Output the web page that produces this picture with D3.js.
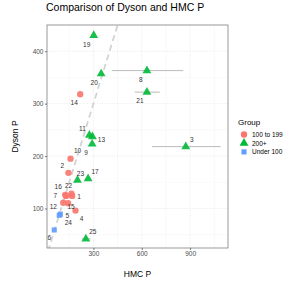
<!DOCTYPE html>
<html>
<head>
<meta charset="utf-8">
<script src="https://cdn.jsdelivr.net/npm/d3@7"></script>
<style>
  body { margin: 0; background: #fff; }
  text { font-family: "Liberation Sans", Arial, sans-serif; }
</style>
</head>
<body>
<svg id="chart" width="291" height="291"></svg>
<script>
// values
const ids    = [1, 2, 3, 4, 5, 6, 7, 8, 9, 10, 11, 12, 13, 14, 15, 16, 17, 19, 20, 21, 22, 23, 24, 25];
const hmc    = [168, 145, 873, 189, 88, 57, 125, 632, 292, 158, 275, 113, 294, 218, 143, 131, 267, 302, 348, 632, 164, 201, 95, 253];
const dyson  = [124, 168, 218, 96, 87, 59, 126, 363, 223, 195, 240, 111, 237, 318, 110, 124, 157, 430, 357, 322, 128, 154, 89, 42];
const groups = ["100 to 199", "100 to 199", "200+", "100 to 199", "Under 100", "Under 100", "100 to 199", "200+", "200+", "100 to 199",
                "200+", "100 to 199", "200+", "100 to 199", "100 to 199", "100 to 199", "200+", "200+", "200+", "200+",
                "100 to 199", "200+", "Under 100", "200+"];
const hmcLo  = [null, null, 663, null, null, null, null, 414, null, null, null, null, null, null, null, null, null, null, null, 556, null, null, null, 228];
const hmcHi  = [null, null, 1090, null, null, null, null, 857, null, null, null, null, null, null, null, null, null, null, null, 712, null, null, null, 284];
// label nudges (px) as placed by the repel step
const labelDx = [7, -6, 6, 6, 8, -5, -10, -6, -6, 7, -7, -10, 9, -6, 3, -8, 7, -7, -7, -7, -3, 3, 8, 7];
const labelDy = [1, -7, -7, 8, 0, 8, 1, 9, 9, -8, -7, 4, 3, 8, 3, -9, -7, 9, 9, 8, -8, -7, 8, -7];

const groupNames = ["100 to 199", "200+", "Under 100"];
const groupColors = ["#F8766D", "#00BA38", "#619CFF"];
const xTicks = [300, 600, 900];
const yTicks = [100, 200, 300, 400];
const xMinor = [150, 450, 750, 1050];
const yMinor = [50, 150, 250, 350];

const svg = d3.select("#chart");
const pLeft = 47, pRight = 228, pTop = 25, pBottom = 248;

const x = d3.scaleLinear().domain([12, 1135]).range([pLeft, pRight]);
const y = d3.scaleLinear().domain([24.6, 450]).range([pBottom, pTop]);
const color = d3.scaleOrdinal().domain(groupNames).range(groupColors);

const data = ids.map((id, i) => ({
  id, hmc: hmc[i], dyson: dyson[i], group: groups[i],
  lo: hmcLo[i], hi: hmcHi[i], dx: labelDx[i], dy: labelDy[i]
}));

svg.append("defs").append("clipPath").attr("id", "panel")
  .append("rect").attr("x", pLeft).attr("y", pTop)
  .attr("width", pRight - pLeft).attr("height", pBottom - pTop);

const g = svg.append("g");

// minor grid
g.selectAll(".xminor").data(xMinor).join("line")
  .attr("x1", (d) => x(d)).attr("x2", (d) => x(d))
  .attr("y1", pTop).attr("y2", pBottom)
  .attr("stroke", "#f2f2f2").attr("stroke-width", 0.5);
g.selectAll(".yminor").data(yMinor).join("line")
  .attr("x1", pLeft).attr("x2", pRight)
  .attr("y1", (d) => y(d)).attr("y2", (d) => y(d))
  .attr("stroke", "#f2f2f2").attr("stroke-width", 0.5);

// major grid (dotted)
g.selectAll(".xmajor").data(xTicks).join("line")
  .attr("x1", (d) => x(d)).attr("x2", (d) => x(d))
  .attr("y1", pTop).attr("y2", pBottom)
  .attr("stroke", "#dcdcdc").attr("stroke-width", 0.6)
  .attr("stroke-dasharray", "1,1.5");
g.selectAll(".ymajor").data(yTicks).join("line")
  .attr("x1", pLeft).attr("x2", pRight)
  .attr("y1", (d) => y(d)).attr("y2", (d) => y(d))
  .attr("stroke", "#dcdcdc").attr("stroke-width", 0.6)
  .attr("stroke-dasharray", "1,1.5");

// identity line
const clipped = svg.append("g").attr("clip-path", "url(#panel)");
clipped.append("line")
  .attr("x1", x(0)).attr("y1", y(0))
  .attr("x2", x(500)).attr("y2", y(500))
  .attr("stroke", "#d3d3d3").attr("stroke-width", 1.8)
  .attr("stroke-dasharray", "6,4");

// error bars
clipped.selectAll(".err").data(data.filter((d) => d.lo != null)).join("line")
  .attr("x1", (d) => x(d.lo)).attr("x2", (d) => x(d.hi))
  .attr("y1", (d) => y(d.dyson)).attr("y2", (d) => y(d.dyson))
  .attr("stroke", "#a8a8a8").attr("stroke-width", 0.8);

// points
const shape = { "100 to 199": d3.symbolCircle, "200+": d3.symbolTriangle, "Under 100": d3.symbolSquare };
const sizes = { "100 to 199": 32, "200+": 34, "Under 100": 26 };
clipped.selectAll(".pt").data(data).join("path")
  .attr("transform", (d) => `translate(${x(d.hmc)},${y(d.dyson)})`)
  .attr("d", (d) => d3.symbol().type(shape[d.group]).size(sizes[d.group])())
  .attr("fill", (d) => color(d.group))
  .attr("fill-opacity", 0.9);

// point labels
svg.selectAll(".lab").data(data).join("text")
  .attr("x", (d) => x(d.hmc) + d.dx)
  .attr("y", (d) => y(d.dyson) + d.dy)
  .attr("text-anchor", "middle")
  .attr("dominant-baseline", "central")
  .attr("font-size", 6.5)
  .attr("fill", "#333")
  .text((d) => d.id);

// panel border
svg.append("rect")
  .attr("x", pLeft).attr("y", pTop)
  .attr("width", pRight - pLeft).attr("height", pBottom - pTop)
  .attr("fill", "none").attr("stroke", "#7f7f7f").attr("stroke-width", 0.8);

// axes
const xAxis = svg.append("g").attr("transform", `translate(0,${pBottom})`)
  .call(d3.axisBottom(x).tickValues(xTicks).tickSize(2).tickPadding(1.5));
const yAxis = svg.append("g").attr("transform", `translate(${pLeft},0)`)
  .call(d3.axisLeft(y).tickValues(yTicks).tickSize(2).tickPadding(1.5));
[xAxis, yAxis].forEach((a) => {
  a.select(".domain").remove();
  a.selectAll(".tick line").attr("stroke", "#333").attr("stroke-width", 0.6);
  a.selectAll(".tick text").attr("fill", "#4d4d4d").attr("font-size", 6.5)
    .style("font-family", "Liberation Sans, Arial, sans-serif");
});

// titles
svg.append("text").attr("x", 46).attr("y", 11)
  .attr("font-size", 10.5).attr("fill", "#000")
  .text("Comparison of Dyson and HMC P");
svg.append("text").attr("x", (pLeft + pRight) / 2).attr("y", 277)
  .attr("text-anchor", "middle").attr("font-size", 8.5)
  .text("HMC P");
svg.append("text")
  .attr("transform", `translate(18,${(pTop + pBottom) / 2}) rotate(-90)`)
  .attr("text-anchor", "middle").attr("font-size", 8.5)
  .text("Dyson P");

// legend
const legend = svg.append("g").attr("transform", "translate(238,0)");
legend.append("text").attr("x", 0).attr("y", 125)
  .attr("font-size", 8).text("Group");
const items = legend.selectAll(".item").data(groupNames).join("g")
  .attr("transform", (d, i) => `translate(6,${134.5 + i * 8.7})`);
items.append("path")
  .attr("d", (d) => d3.symbol().type(shape[d]).size(sizes[d])())
  .attr("fill", (d) => color(d));
items.append("text").attr("x", 8).attr("y", 0)
  .attr("dominant-baseline", "central")
  .attr("font-size", 6.5).text((d) => d);
</script>
</body>
</html>
